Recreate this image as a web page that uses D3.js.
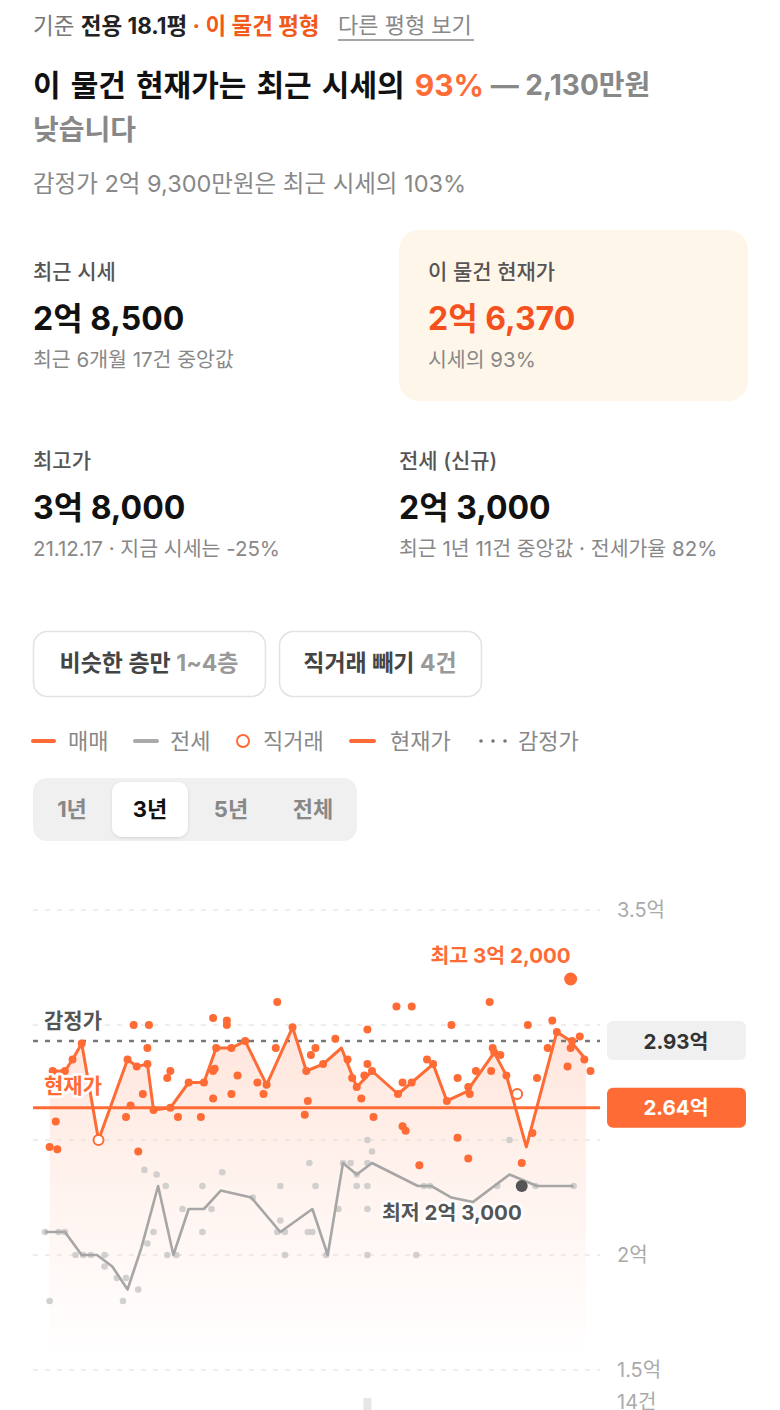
<!DOCTYPE html>
<html><head><meta charset="utf-8">
<script src="https://cdn.jsdelivr.net/npm/d3@7"></script>
<style>
html,body{margin:0;padding:0;background:#fff;}
svg{display:block;font-family:Inter,'Noto Sans CJK KR','Noto Sans',sans-serif;}
</style></head>
<body>
<svg id="c" width="780" height="1410"></svg>
<script>
// ===== DATA =====
// 매매 median line (month index from start of 3-year window, price in 억)
const saleLineM = [0.5,1.5,2.0,2.6,3.7,5.6,6.2,6.9,7.3,8.4,9.6,10.6,11.4,12.4,13.3,14.7,16.4,17.3,18.4,19.6,20.6,21.6,23.3,24.2,25.6,26.5,27.8,29.6,30.4,31.7,33.7,34.6,35.6];
const saleLineV = [2.80,2.80,2.85,2.92,2.50,2.85,2.82,2.83,2.63,2.64,2.75,2.75,2.90,2.90,2.93,2.74,2.99,2.80,2.83,2.90,2.73,2.80,2.70,2.75,2.83,2.67,2.71,2.88,2.78,2.47,2.97,2.93,2.85];
// 매매 individual trades
const saleDotM = [0.5,0.7,0.9,1.0,1.5,2.0,2.6,5.5,5.6,5.8,6.0,6.2,6.3,6.6,6.9,6.9,7.0,7.3,8.2,8.4,8.4,8.9,9.6,10.4,10.6,11.2,11.2,11.3,11.2,11.4,12.1,12.1,12.4,12.4,12.8,13.3,14.1,14.5,14.7,15.3,15.4,16.4,17.2,17.4,17.3,17.6,17.9,18.4,19.2,20.0,20.3,20.6,20.9,21.3,21.3,21.1,21.6,21.7,23.2,23.3,23.6,23.6,23.8,24.2,24.2,24.7,25.2,25.6,26.5,26.8,27.2,27.2,27.9,27.9,28.0,28.4,29.3,29.4,29.5,29.6,30.0,30.4,31.4,31.8,32.1,32.4,33.1,33.4,33.7,34.4,34.6,34.7,35.2,35.5,35.9];
const saleDotV = [2.47,2.80,2.58,2.46,2.80,2.85,2.92,2.60,2.85,2.65,3.00,2.82,2.45,2.70,2.90,2.83,3.00,2.63,2.77,2.80,2.64,2.60,2.75,2.60,2.75,3.03,2.80,2.81,2.68,2.90,3.02,3.00,2.90,2.70,2.78,2.93,2.75,2.70,2.74,2.90,3.10,2.99,2.61,2.67,2.80,2.87,2.90,2.83,2.94,2.85,2.77,2.73,2.68,2.98,2.83,2.78,2.80,2.60,3.08,2.70,2.75,2.56,2.54,3.08,2.75,2.39,2.85,2.83,2.67,3.00,2.77,2.51,2.42,2.73,2.70,2.80,3.10,2.80,2.90,2.88,2.87,2.78,2.40,3.00,2.53,2.77,2.90,3.02,2.97,2.82,2.90,2.93,2.95,2.85,2.80];
// 직거래 (direct deals)
const directM = [3.7,31.1];
const directV = [2.50,2.70];
// 최고 / 최저
const maxM = [34.6], maxV = [3.20];
const minM = [31.4], minV = [2.30];
// 전세 line + trades
const leaseLineM = [0.2,1.5,2.6,3.6,4.6,5.6,6.5,7.6,8.6,9.6,10.6,11.7,13.7,15.6,17.7,18.7,19.7,20.6,21.6,24.6,25.5,26.8,28.2,30.6,32.4,34.8];
const leaseLineV = [2.10,2.10,2.00,2.00,1.95,1.85,2.03,2.30,2.00,2.20,2.20,2.28,2.25,2.10,2.20,2.00,2.40,2.35,2.40,2.30,2.30,2.25,2.23,2.35,2.30,2.30];
const leaseDotM = [0.2,1.1,1.5,0.5,2.2,2.7,3.2,4.1,4.1,4.9,5.5,5.3,6.3,6.9,7.3,6.7,7.5,8.1,8.2,8.8,9.2,10.5,10.5,11.1,11.8,13.8,15.6,15.6,15.4,15.9,15.9,17.5,17.9,17.4,17.7,18.6,19.4,19.7,20.2,20.6,20.6,21.3,21.3,21.6,21.3,21.3,21.3,24.5,25.0,25.4,29.8,30.6,32.3,34.8];
const leaseDotV = [2.10,2.10,2.10,1.80,2.00,2.00,2.00,2.00,1.95,1.90,1.90,1.80,1.85,2.05,2.10,2.37,2.35,2.30,2.00,2.00,2.20,2.30,2.10,2.20,2.36,2.25,2.30,2.15,2.10,2.10,2.00,2.40,2.30,2.10,2.10,2.00,2.20,2.40,2.40,2.35,2.30,2.30,2.50,2.45,2.40,2.20,2.00,2.00,2.30,2.30,2.30,2.50,2.30,2.30];
// reference levels
const appraisal = 2.93;
const currentPrice = 2.64;
// y-axis ticks
const gridTicks = [3.5,3.0,2.5,2.0,1.5];
const labelTicks = [3.5,2.0,1.5];
const labelText = ["3.5억","2억","1.5억"];
// volume (only top of tallest bar visible)
const volM = [21.3], volN = [14];
const periodTabs = ["1년","3년","5년","전체"];
const selectedTab = "3년";

// ===== DRAW =====
const svg = d3.select("#c");
const ORANGE = "#ff6b35";

function txt(x, y, parts, size, opts={}) {
  const t = svg.append("text").attr("x", x).attr("y", y)
    .attr("font-size", size).attr("dominant-baseline","central")
    .attr("text-anchor", opts.anchor || "start");
  if (opts.ls !== undefined) t.attr("letter-spacing", opts.ls);
  if (opts.ws !== undefined) t.attr("word-spacing", opts.ws);
  parts.forEach(p => {
    const s = t.append("tspan").text(p.t).attr("fill", p.c || "#222").attr("font-weight", p.w || 400);
    if (p.fs) s.attr("font-size", p.fs);
    if (p.ws !== undefined) s.attr("word-spacing", p.ws);
  });
  return t;
}

// --- header line
txt(33, 25, [{t:"기준 ",c:"#777"},{t:"전용 18.1평",c:"#222",w:700},{t:" · 이 물건 평형",c:"#f05a1a",w:700}], 22.5);
txt(338, 25, [{t:"다른 평형 보기",c:"#888"}], 22);
svg.append("line").attr("x1",338).attr("x2",474).attr("y1",40).attr("y2",40).attr("stroke","#888").attr("stroke-width",1.5);

// --- headline
txt(33, 85, [{t:"이 물건 현재가는 최근 시세의 ",c:"#111",w:700},{t:"93%",c:ORANGE,w:700},{t:" — 2,130만원",c:"#888",w:700,fs:28,ws:0}], 30, {ws:3});
txt(33, 130, [{t:"낮습니다",c:"#888",w:700}], 28);
txt(33, 183, [{t:"감정가 2억 9,300만원은 최근 시세의 103%",c:"#888"}], 23.5);

// --- cards
svg.append("rect").attr("x",399).attr("y",230).attr("width",349).attr("height",171).attr("rx",20).attr("fill","#fff6ea");
const cards = [
  {x:33,y:0,label:"최근 시세",value:"2억 8,500",vc:"#111",sub:"최근 6개월 17건 중앙값"},
  {x:428,y:0,label:"이 물건 현재가",value:"2억 6,370",vc:"#f4511e",sub:"시세의 93%"},
  {x:33,y:189,label:"최고가",value:"3억 8,000",vc:"#111",sub:"21.12.17 · 지금 시세는 -25%"},
  {x:399,y:189,label:"전세 (신규)",value:"2억 3,000",vc:"#111",sub:"최근 1년 11건 중앙값 · 전세가율 82%"}
];
cards.forEach(c => {
  txt(c.x, 271 + c.y, [{t:c.label,c:"#555",w:500}], 21);
  txt(c.x, 318 + c.y, [{t:c.value,c:c.vc,w:700}], 32);
  txt(c.x, 359 + c.y, [{t:c.sub,c:"#888"}], 20.5);
});

// --- filter buttons
[{x:33,w:232,a:"비슷한 층만 ",b:"1~4층"},{x:279,w:202,a:"직거래 빼기 ",b:"4건"}].forEach(b => {
  svg.append("rect").attr("x",b.x+0.5).attr("y",631.5).attr("width",b.w).attr("height",65).attr("rx",14)
    .attr("fill","#fff").attr("stroke","#e2e2e2").attr("stroke-width",1.5);
  txt(b.x + b.w/2, 663, [{t:b.a,c:"#444",w:700},{t:b.b,c:"#999",w:700}], 23, {anchor:"middle"});
});

// --- legend
const LY = 741;
svg.append("line").attr("x1",33).attr("x2",54).attr("y1",LY).attr("y2",LY).attr("stroke",ORANGE).attr("stroke-width",4).attr("stroke-linecap","round");
txt(68, LY, [{t:"매매",c:"#888"}], 22);
svg.append("line").attr("x1",135).attr("x2",157).attr("y1",LY).attr("y2",LY).attr("stroke","#aaa").attr("stroke-width",4).attr("stroke-linecap","round");
txt(170, LY, [{t:"전세",c:"#888"}], 22);
svg.append("circle").attr("cx",243).attr("cy",LY).attr("r",6).attr("fill","#fff").attr("stroke",ORANGE).attr("stroke-width",2);
txt(263, LY, [{t:"직거래",c:"#888"}], 22);
svg.append("line").attr("x1",351).attr("x2",374).attr("y1",LY).attr("y2",LY).attr("stroke",ORANGE).attr("stroke-width",4).attr("stroke-linecap","round");
txt(390, LY, [{t:"현재가",c:"#888"}], 22);
[481,493,505].forEach(x => svg.append("circle").attr("cx",x).attr("cy",LY).attr("r",1.8).attr("fill","#777"));
txt(518, LY, [{t:"감정가",c:"#888"}], 22);

// --- period tabs
svg.append("rect").attr("x",33).attr("y",778).attr("width",324).attr("height",63).attr("rx",14).attr("fill","#f0f0f0");
const defs = svg.append("defs");
const sh = defs.append("filter").attr("id","sh").attr("x","-20%").attr("y","-20%").attr("width","140%").attr("height","150%");
sh.append("feDropShadow").attr("dx",0).attr("dy",1).attr("stdDeviation",1.5).attr("flood-color","#000").attr("flood-opacity",0.12);
svg.append("rect").attr("x",112).attr("y",782).attr("width",76).attr("height",55).attr("rx",10).attr("fill","#fff").attr("filter","url(#sh)");
const tabX = [72,150,231,313];
periodTabs.forEach((t,i) => txt(tabX[i], 809, [{t:t,c: t===selectedTab ? "#111" : "#888", w:700}], 22, {anchor:"middle"}));

// ===== CHART =====
const x = d3.scaleLinear().domain([0,36]).range([42,592]);
const y = d3.scaleLinear().domain([1.5,3.5]).range([1370,910]);
const gridX0 = 33, gridX1 = 600;

const grad = defs.append("linearGradient").attr("id","ag").attr("gradientUnits","userSpaceOnUse")
  .attr("x1",0).attr("x2",0).attr("y1",y(3.2)).attr("y2",y(1.55));
grad.append("stop").attr("offset",0).attr("stop-color",ORANGE).attr("stop-opacity",0.2);
grad.append("stop").attr("offset",0.55).attr("stop-color",ORANGE).attr("stop-opacity",0.08);
grad.append("stop").attr("offset",1).attr("stop-color",ORANGE).attr("stop-opacity",0);

const saleData = saleLineM.map((m,i)=>({m, v:saleLineV[i]}));
svg.append("path").datum(saleData)
  .attr("d", d3.area().x(d=>x(d.m)).y0(y(1.55)).y1(d=>y(d.v)))
  .attr("fill","url(#ag)");

// grid
svg.append("g").selectAll("line").data(gridTicks).join("line")
  .attr("x1",gridX0).attr("x2",gridX1).attr("y1",d=>y(d)).attr("y2",d=>y(d))
  .attr("stroke","#dcdcdc").attr("stroke-width",1).attr("stroke-dasharray","5,7");
// y labels
svg.append("g").selectAll("text").data(labelTicks).join("text")
  .attr("x",617).attr("y",d=>y(d)).attr("dominant-baseline","central")
  .attr("font-size",20).attr("fill","#aaa").text((d,i)=>labelText[i]);

// lease dots + line
svg.append("g").selectAll("circle").data(leaseDotM.map((m,i)=>({m,v:leaseDotV[i]}))).join("circle")
  .attr("cx",d=>x(d.m)).attr("cy",d=>y(d.v)).attr("r",3.3).attr("fill","#c9c9c9").attr("opacity",0.85);
svg.append("path").datum(leaseLineM.map((m,i)=>({m,v:leaseLineV[i]})))
  .attr("d", d3.line().x(d=>x(d.m)).y(d=>y(d.v)))
  .attr("fill","none").attr("stroke","#a6a6a6").attr("stroke-width",2.6).attr("stroke-linejoin","round");

// appraisal dotted line
svg.append("line").attr("x1",gridX0).attr("x2",gridX1).attr("y1",y(appraisal)).attr("y2",y(appraisal))
  .attr("stroke","#777").attr("stroke-width",2.5).attr("stroke-dasharray","5,7");
// current price line
svg.append("line").attr("x1",gridX0).attr("x2",gridX1).attr("y1",y(currentPrice)).attr("y2",y(currentPrice))
  .attr("stroke",ORANGE).attr("stroke-width",3);

// sale dots
svg.append("g").selectAll("circle").data(saleDotM.map((m,i)=>({m,v:saleDotV[i]}))).join("circle")
  .attr("cx",d=>x(d.m)).attr("cy",d=>y(d.v)).attr("r",4).attr("fill",ORANGE);
// sale line
svg.append("path").datum(saleData)
  .attr("d", d3.line().x(d=>x(d.m)).y(d=>y(d.v)))
  .attr("fill","none").attr("stroke",ORANGE).attr("stroke-width",3).attr("stroke-linejoin","round");
// direct deals
svg.append("g").selectAll("circle").data(directM.map((m,i)=>({m,v:directV[i]}))).join("circle")
  .attr("cx",d=>x(d.m)).attr("cy",d=>y(d.v)).attr("r",5).attr("fill","#fff").attr("stroke",ORANGE).attr("stroke-width",2);
// max point
svg.append("circle").attr("cx",x(maxM[0])).attr("cy",y(maxV[0])).attr("r",6.5).attr("fill",ORANGE);
svg.append("text").attr("x",x(maxM[0])).attr("y",y(maxV[0])-24).attr("text-anchor","end").attr("dominant-baseline","central")
  .attr("font-size",20.5).attr("font-weight",700).attr("fill",ORANGE).text("최고 3억 2,000");
// min point
svg.append("circle").attr("cx",x(minM[0])).attr("cy",y(minV[0])).attr("r",6).attr("fill","#555");
svg.append("text").attr("x",x(minM[0])).attr("y",y(minV[0])+26).attr("text-anchor","end").attr("dominant-baseline","central")
  .attr("font-size",20.5).attr("font-weight",700).attr("fill","#555")
  .attr("stroke","#fff").attr("stroke-width",5).attr("paint-order","stroke").attr("stroke-linejoin","round").text("최저 2억 3,000");

// in-chart labels
svg.append("text").attr("x",44).attr("y",y(appraisal)-21).attr("dominant-baseline","central")
  .attr("font-size",21).attr("font-weight",700).attr("fill","#555")
  .attr("stroke","#fff").attr("stroke-width",5).attr("paint-order","stroke").attr("stroke-linejoin","round").text("감정가");
svg.append("text").attr("x",44).attr("y",y(currentPrice)-22).attr("dominant-baseline","central")
  .attr("font-size",21).attr("font-weight",700).attr("fill",ORANGE)
  .attr("stroke","#fff").attr("stroke-width",5).attr("paint-order","stroke").attr("stroke-linejoin","round").text("현재가");

// badges
svg.append("rect").attr("x",607).attr("y",y(appraisal)-20).attr("width",139).attr("height",39).attr("rx",6).attr("fill","#f0f0f0");
svg.append("text").attr("x",676).attr("y",y(appraisal)).attr("text-anchor","middle").attr("dominant-baseline","central")
  .attr("font-size",20.5).attr("font-weight",700).attr("fill","#333").text(d3.format(".2f")(appraisal)+"억");
svg.append("rect").attr("x",607).attr("y",y(currentPrice)-20).attr("width",139).attr("height",40).attr("rx",6).attr("fill",ORANGE);
svg.append("text").attr("x",676).attr("y",y(currentPrice)).attr("text-anchor","middle").attr("dominant-baseline","central")
  .attr("font-size",20.5).attr("font-weight",700).attr("fill","#fff").text(d3.format(".2f")(currentPrice)+"억");

// volume chart (top edge visible)
const yv = d3.scaleLinear().domain([0,14]).range([1480,1398]);
svg.append("g").selectAll("rect").data(volM.map((m,i)=>({m,n:volN[i]}))).join("rect")
  .attr("x",d=>x(d.m)-4).attr("y",d=>yv(d.n)).attr("width",8).attr("height",d=>yv(0)-yv(d.n)).attr("fill","#e6e6e6");
svg.append("text").attr("x",617).attr("y",1402).attr("dominant-baseline","central").attr("font-size",20).attr("fill","#aaa").text(d3.max(volN)+"건");
</script>
</body></html>
